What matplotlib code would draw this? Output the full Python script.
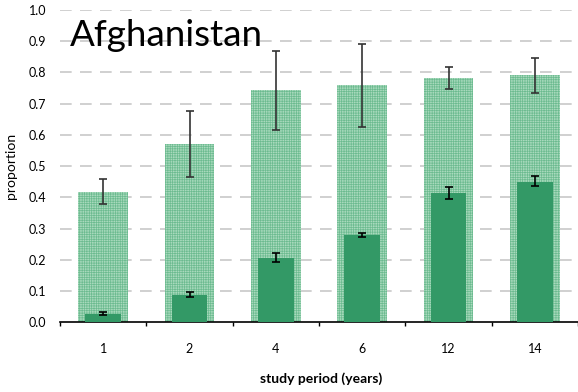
import matplotlib
matplotlib.use("Agg")
import matplotlib.pyplot as plt
import numpy as np

plt.rcParams['font.family'] = ['Lato', 'DejaVu Sans']
plt.rcParams['hatch.linewidth'] = 0.5

categories = ['1', '2', '4', '6', '12', '14']
outer = [0.416, 0.570, 0.743, 0.759, 0.781, 0.790]
outer_lo = [0.378, 0.464, 0.616, 0.624, 0.746, 0.735]
outer_hi = [0.460, 0.677, 0.869, 0.890, 0.818, 0.847]
inner = [0.026, 0.087, 0.205, 0.279, 0.414, 0.450]
inner_lo = [0.022, 0.082, 0.192, 0.274, 0.395, 0.435]
inner_hi = [0.033, 0.097, 0.221, 0.285, 0.432, 0.467]
yticks = [0.0, 0.1, 0.2, 0.3, 0.4, 0.5, 0.6, 0.7, 0.8, 0.9, 1.0]

fig = plt.figure(figsize=(5.78, 3.92), dpi=100)
ax = fig.add_axes([60/578, 1 - 322.3/392, 518/578, 312.5/392])

x = np.arange(len(categories))
outer = np.array(outer); inner = np.array(inner)
ax.bar(x, outer, width=0.575, color='#a9dabd', edgecolor='#6cbb90', hatch='+++++++',
       linewidth=0, zorder=2)
ax.errorbar(x, outer, yerr=[outer - np.array(outer_lo), np.array(outer_hi) - outer],
            fmt='none', ecolor='#333333', elinewidth=1.2, capsize=3, capthick=1.2, zorder=4)
ax.bar(x, inner, width=0.41, color='#339966', linewidth=0, zorder=3)
ax.errorbar(x, inner, yerr=[inner - np.array(inner_lo), np.array(inner_hi) - inner],
            fmt='none', ecolor='black', elinewidth=1.2, capsize=3, capthick=1.2, zorder=4)

ax.set_xlim(-0.5, 5.45)
ax.set_ylim(0, 1.0)
ax.set_yticks(yticks)
ax.set_yticklabels([f'{v:.1f}' for v in yticks], fontsize=9)
ax.tick_params(axis='y', length=0, pad=10)
ax.set_xticks(x)
ax.set_xticklabels(categories, fontsize=9)
ax.set_xticks(np.arange(-0.5, 5.6, 1.0), minor=True)
ax.tick_params(axis='x', which='major', length=0, pad=15)
ax.tick_params(axis='x', which='minor', length=3, width=1, direction='out')
for s in ['left', 'right', 'top']:
    ax.spines[s].set_visible(False)
ax.spines['bottom'].set_linewidth(1.2)
for v in yticks[1:]:
    ax.axhline(v, color='#c8c8c8', linewidth=1.2, dashes=(7, 5), zorder=1)

ax.set_ylabel('proportion', fontsize=10, labelpad=8)
fig.text(321/578, 1 - 383/392, 'study period (years)', fontsize=10, fontweight='bold',
         ha='center', va='baseline')
fig.text(70/578, 1 - 46/392, 'Afghanistan', fontsize=26.5,
         ha='left', va='baseline', zorder=5)

fig.savefig('out.png', dpi=100)
